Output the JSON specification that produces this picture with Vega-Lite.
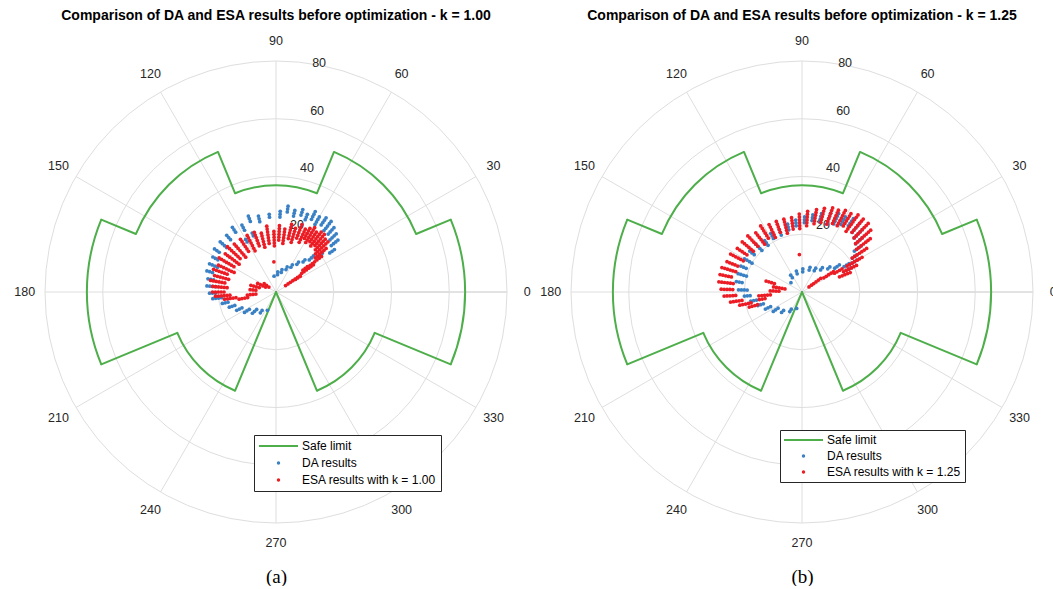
{
  "$schema": "https://vega.github.io/schema/vega-lite/v6.json",
  "padding": {"left": 14, "top": 8, "right": 0, "bottom": 0},
  "background": "white",
  "config": {
    "view": {"stroke": null},
    "font": "Liberation Sans",
    "axisX": {"domain": false, "ticks": false, "labels": false, "grid": false, "titleFont": "Liberation Serif", "titleFontSize": 19, "titleFontWeight": "normal", "titleColor": "#000000", "titlePadding": 44}
  },
  "spacing": 64,
  "bounds": "flush",
  "resolve": {"scale": {"color": "independent", "x": "independent", "y": "independent", "radius": "independent", "theta": "independent"}, "legend": {"color": "independent"}},
  "datasets": {
    "rings": [{"r": 20}, {"r": 40}, {"r": 60}, {"r": 80}],
    "spokes": [{"t": 0}, {"t": 30}, {"t": 60}, {"t": 90}, {"t": 120}, {"t": 150}, {"t": 180}, {"t": 210}, {"t": 240}, {"t": 270}, {"t": 300}, {"t": 330}],
    "rticks": [{"r": 20}, {"r": 40}, {"r": 60}, {"r": 80}],
    "arcs": [
      {"s": "S", "t0": -22.5, "t1": 22.5, "r": 65.5},
      {"s": "S", "t0": 22.5, "t1": 67.5, "r": 52.5},
      {"s": "S", "t0": 67.5, "t1": 112.5, "r": 37},
      {"s": "S", "t0": 112.5, "t1": 157.5, "r": 52.5},
      {"s": "S", "t0": 157.5, "t1": 202.5, "r": 65.5},
      {"s": "S", "t0": 202.5, "t1": 247.5, "r": 37},
      {"s": "S", "t0": 292.5, "t1": 337.5, "r": 37}
    ],
    "steps": [
      {"t": 22.5, "r1": 65.5, "r2": 52.5},
      {"t": 67.5, "r1": 52.5, "r2": 37},
      {"t": 112.5, "r1": 37, "r2": 52.5},
      {"t": 157.5, "r1": 52.5, "r2": 65.5},
      {"t": 202.5, "r1": 65.5, "r2": 37},
      {"t": 247.5, "r1": 37, "r2": 0},
      {"t": 292.5, "r1": 0, "r2": 37},
      {"t": 337.5, "r1": 37, "r2": 65.5}
    ],
    "pts": [
      {"p": "a", "s": "D", "t": 36, "r": [23, 24, 25]},
      {"p": "a", "s": "D", "t": 40, "r": [25, 26, 27, 28]},
      {"p": "a", "s": "D", "t": 44, "r": [26, 27, 28, 29]},
      {"p": "a", "s": "D", "t": 48, "r": [27, 28, 29, 30]},
      {"p": "a", "s": "D", "t": 52, "r": [27, 28, 29, 30, 31]},
      {"p": "a", "s": "D", "t": 56, "r": [28, 29, 30, 31]},
      {"p": "a", "s": "D", "t": 60, "r": [27, 28, 29, 30]},
      {"p": "a", "s": "D", "t": 64, "r": [28, 29, 30, 31]},
      {"p": "a", "s": "D", "t": 68, "r": [27, 28, 29]},
      {"p": "a", "s": "D", "t": 72, "r": [28, 29, 30]},
      {"p": "a", "s": "D", "t": 77, "r": [27, 28, 29]},
      {"p": "a", "s": "D", "t": 82, "r": [28, 29, 30]},
      {"p": "a", "s": "D", "t": 87, "r": [26, 27, 28]},
      {"p": "a", "s": "D", "t": 95, "r": [26, 27]},
      {"p": "a", "s": "D", "t": 103, "r": [25, 26, 27]},
      {"p": "a", "s": "D", "t": 110, "r": [26, 27, 28]},
      {"p": "a", "s": "D", "t": 112, "r": [21, 22]},
      {"p": "a", "s": "D", "t": 117, "r": [24, 25, 26]},
      {"p": "a", "s": "D", "t": 120, "r": [20, 21]},
      {"p": "a", "s": "D", "t": 124, "r": [25, 26, 27]},
      {"p": "a", "s": "D", "t": 131, "r": [24, 25, 26]},
      {"p": "a", "s": "D", "t": 138, "r": [23, 24, 25, 26]},
      {"p": "a", "s": "D", "t": 145, "r": [24, 25, 26]},
      {"p": "a", "s": "D", "t": 151, "r": [23, 24, 25]},
      {"p": "a", "s": "D", "t": 157, "r": [22, 23, 24, 25]},
      {"p": "a", "s": "D", "t": 163, "r": [23, 24, 25]},
      {"p": "a", "s": "D", "t": 169, "r": [22, 23, 24]},
      {"p": "a", "s": "D", "t": 175, "r": [21, 22, 23, 24]},
      {"p": "a", "s": "D", "t": 181, "r": [21, 22, 23]},
      {"p": "a", "s": "D", "t": 186, "r": [19, 20, 21, 22]},
      {"p": "a", "s": "D", "t": 192, "r": [17, 18, 19]},
      {"p": "a", "s": "D", "t": 198, "r": [15, 16, 17]},
      {"p": "a", "s": "D", "t": 205, "r": [13, 14, 15]},
      {"p": "a", "s": "D", "t": 213, "r": [11, 12, 13]},
      {"p": "a", "s": "D", "t": 222, "r": [9, 10, 11]},
      {"p": "a", "s": "D", "t": 233, "r": [8, 9]},
      {"p": "a", "s": "D", "t": 245, "r": [7]},
      {"p": "a", "s": "D", "t": 40, "r": [19, 20, 21]},
      {"p": "a", "s": "D", "t": 44, "r": [16, 17, 18]},
      {"p": "a", "s": "D", "t": 48, "r": [14, 15]},
      {"p": "a", "s": "D", "t": 53, "r": [12, 13]},
      {"p": "a", "s": "D", "t": 59, "r": [10, 11]},
      {"p": "a", "s": "D", "t": 66, "r": [8.5, 9.5]},
      {"p": "a", "s": "D", "t": 75, "r": [7, 8]},
      {"p": "a", "s": "D", "t": 85, "r": [6, 7]},
      {"p": "a", "s": "D", "t": 97, "r": [5.5]},
      {"p": "a", "s": "E", "t": 38, "r": [15, 16, 17, 18, 19, 20]},
      {"p": "a", "s": "E", "t": 41, "r": [18, 19, 20, 21, 22, 23]},
      {"p": "a", "s": "E", "t": 44, "r": [19, 20, 21, 22, 23, 24, 25]},
      {"p": "a", "s": "E", "t": 47, "r": [20, 21, 22, 23, 24, 25]},
      {"p": "a", "s": "E", "t": 50, "r": [21, 22, 23, 24, 25, 26]},
      {"p": "a", "s": "E", "t": 53, "r": [20, 21, 22, 23, 24, 25, 26]},
      {"p": "a", "s": "E", "t": 56, "r": [21, 22, 23, 24, 25]},
      {"p": "a", "s": "E", "t": 59, "r": [20, 21, 22, 23, 24, 25, 26]},
      {"p": "a", "s": "E", "t": 62, "r": [21, 22, 23, 24, 25]},
      {"p": "a", "s": "E", "t": 65, "r": [19, 20, 21, 22, 23, 24]},
      {"p": "a", "s": "E", "t": 69, "r": [20, 21, 22, 23, 24, 25]},
      {"p": "a", "s": "E", "t": 73, "r": [18, 19, 20, 21, 22, 23]},
      {"p": "a", "s": "E", "t": 77, "r": [19, 20, 21, 22, 23, 24]},
      {"p": "a", "s": "E", "t": 82, "r": [17, 18, 19, 20, 21, 22]},
      {"p": "a", "s": "E", "t": 87, "r": [18, 19, 20, 21, 22, 23]},
      {"p": "a", "s": "E", "t": 92, "r": [16, 17, 18, 19, 20, 21]},
      {"p": "a", "s": "E", "t": 98, "r": [17, 18, 19, 20, 21, 22, 23]},
      {"p": "a", "s": "E", "t": 104, "r": [16, 17, 18, 19, 20, 21]},
      {"p": "a", "s": "E", "t": 110, "r": [17, 18, 19, 20, 21, 22]},
      {"p": "a", "s": "E", "t": 117, "r": [16, 17, 18, 19, 20, 21, 22]},
      {"p": "a", "s": "E", "t": 124, "r": [17, 18, 19, 20, 21, 22]},
      {"p": "a", "s": "E", "t": 131, "r": [16, 17, 18, 19, 20, 21, 22]},
      {"p": "a", "s": "E", "t": 137, "r": [17, 18, 19, 20, 21, 22, 23]},
      {"p": "a", "s": "E", "t": 143, "r": [16, 17, 18, 19, 20, 21, 22]},
      {"p": "a", "s": "E", "t": 149, "r": [17, 18, 19, 20, 21, 22, 23]},
      {"p": "a", "s": "E", "t": 155, "r": [16, 17, 18, 19, 20, 21, 22]},
      {"p": "a", "s": "E", "t": 160, "r": [18, 19, 20, 21, 22, 23]},
      {"p": "a", "s": "E", "t": 165, "r": [17, 18, 19, 20, 21, 22]},
      {"p": "a", "s": "E", "t": 170, "r": [18, 19, 20, 21, 22, 23]},
      {"p": "a", "s": "E", "t": 175, "r": [17, 18, 19, 20, 21, 22]},
      {"p": "a", "s": "E", "t": 180, "r": [18, 19, 20, 21, 22]},
      {"p": "a", "s": "E", "t": 184, "r": [16, 17, 18, 19, 20, 21]},
      {"p": "a", "s": "E", "t": 188, "r": [14, 15, 16, 17, 18]},
      {"p": "a", "s": "E", "t": 34, "r": [4, 5, 6, 7, 8, 9, 10]},
      {"p": "a", "s": "E", "t": 36, "r": [11, 12, 13, 14, 15, 16]},
      {"p": "a", "s": "E", "t": 33, "r": [8, 9, 10]},
      {"p": "a", "s": "E", "t": 39, "r": [12, 13, 14]},
      {"p": "a", "s": "E", "t": 191, "r": [10, 11, 12, 13]},
      {"p": "a", "s": "E", "t": 186, "r": [7, 8, 9, 10]},
      {"p": "a", "s": "E", "t": 175, "r": [7, 8, 9]},
      {"p": "a", "s": "E", "t": 165, "r": [6, 7, 8, 9]},
      {"p": "a", "s": "E", "t": 155, "r": [4, 5, 6, 7]},
      {"p": "a", "s": "E", "t": 145, "r": [3, 4, 5]},
      {"p": "a", "s": "E", "t": 94, "r": [10.5]},
      {"p": "b", "s": "D", "t": 26, "r": [17, 18, 19]},
      {"p": "b", "s": "D", "t": 30, "r": [19, 20, 21, 22]},
      {"p": "b", "s": "D", "t": 34, "r": [21, 22, 23]},
      {"p": "b", "s": "D", "t": 38, "r": [23, 24, 25, 26]},
      {"p": "b", "s": "D", "t": 42, "r": [25, 26, 27, 28]},
      {"p": "b", "s": "D", "t": 46, "r": [26, 27, 28, 29, 30]},
      {"p": "b", "s": "D", "t": 50, "r": [27, 28, 29, 30, 31]},
      {"p": "b", "s": "D", "t": 55, "r": [28, 29, 30, 31]},
      {"p": "b", "s": "D", "t": 60, "r": [27, 28, 29, 30]},
      {"p": "b", "s": "D", "t": 65, "r": [26, 27, 28, 29, 30]},
      {"p": "b", "s": "D", "t": 70, "r": [27, 28, 29]},
      {"p": "b", "s": "D", "t": 76, "r": [25, 26, 27, 28]},
      {"p": "b", "s": "D", "t": 82, "r": [25, 26, 27]},
      {"p": "b", "s": "D", "t": 88, "r": [24, 25, 26]},
      {"p": "b", "s": "D", "t": 95, "r": [23, 24, 25]},
      {"p": "b", "s": "D", "t": 102, "r": [22, 23, 24]},
      {"p": "b", "s": "D", "t": 110, "r": [21, 22, 23]},
      {"p": "b", "s": "D", "t": 118, "r": [21, 22, 23]},
      {"p": "b", "s": "D", "t": 126, "r": [20, 21, 22]},
      {"p": "b", "s": "D", "t": 134, "r": [20, 21, 22, 23]},
      {"p": "b", "s": "D", "t": 142, "r": [21, 22, 23]},
      {"p": "b", "s": "D", "t": 150, "r": [20, 21, 22, 23]},
      {"p": "b", "s": "D", "t": 157, "r": [21, 22, 23]},
      {"p": "b", "s": "D", "t": 164, "r": [20, 21, 22, 23]},
      {"p": "b", "s": "D", "t": 171, "r": [21, 22, 23]},
      {"p": "b", "s": "D", "t": 178, "r": [19, 20, 21, 22]},
      {"p": "b", "s": "D", "t": 184, "r": [18, 19, 20]},
      {"p": "b", "s": "D", "t": 190, "r": [16, 17, 18]},
      {"p": "b", "s": "D", "t": 197, "r": [14, 15, 16]},
      {"p": "b", "s": "D", "t": 205, "r": [12, 13, 14]},
      {"p": "b", "s": "D", "t": 214, "r": [10, 11, 12]},
      {"p": "b", "s": "D", "t": 225, "r": [9, 10]},
      {"p": "b", "s": "D", "t": 238, "r": [7, 8]},
      {"p": "b", "s": "D", "t": 252, "r": [6]},
      {"p": "b", "s": "D", "t": 31, "r": [17, 18, 19]},
      {"p": "b", "s": "D", "t": 36, "r": [14, 15, 16]},
      {"p": "b", "s": "D", "t": 42, "r": [12, 13]},
      {"p": "b", "s": "D", "t": 50, "r": [10, 11]},
      {"p": "b", "s": "D", "t": 60, "r": [8.5, 9.5]},
      {"p": "b", "s": "D", "t": 72, "r": [8, 9]},
      {"p": "b", "s": "D", "t": 88, "r": [7, 8]},
      {"p": "b", "s": "D", "t": 105, "r": [6.5, 7.5]},
      {"p": "b", "s": "D", "t": 124, "r": [6, 7]},
      {"p": "b", "s": "D", "t": 140, "r": [5]},
      {"p": "b", "s": "E", "t": 22, "r": [14, 15, 16, 17, 18]},
      {"p": "b", "s": "E", "t": 26, "r": [16, 17, 18, 19, 20, 21]},
      {"p": "b", "s": "E", "t": 30, "r": [18, 19, 20, 21, 22, 23, 24]},
      {"p": "b", "s": "E", "t": 34, "r": [21, 22, 23, 24, 25, 26, 27]},
      {"p": "b", "s": "E", "t": 38, "r": [24, 25, 26, 27, 28, 29, 30]},
      {"p": "b", "s": "E", "t": 42, "r": [25, 26, 27, 28, 29, 30, 31, 32]},
      {"p": "b", "s": "E", "t": 46, "r": [26, 27, 28, 29, 30, 31, 32, 33]},
      {"p": "b", "s": "E", "t": 50, "r": [27, 28, 29, 30, 31, 32, 33]},
      {"p": "b", "s": "E", "t": 54, "r": [26, 27, 28, 29, 30, 31, 32, 33]},
      {"p": "b", "s": "E", "t": 58, "r": [27, 28, 29, 30, 31, 32]},
      {"p": "b", "s": "E", "t": 62, "r": [26, 27, 28, 29, 30, 31, 32]},
      {"p": "b", "s": "E", "t": 66, "r": [26, 27, 28, 29, 30, 31]},
      {"p": "b", "s": "E", "t": 70, "r": [25, 26, 27, 28, 29, 30, 31]},
      {"p": "b", "s": "E", "t": 75, "r": [25, 26, 27, 28, 29, 30]},
      {"p": "b", "s": "E", "t": 80, "r": [24, 25, 26, 27, 28, 29]},
      {"p": "b", "s": "E", "t": 86, "r": [23, 24, 25, 26, 27, 28]},
      {"p": "b", "s": "E", "t": 92, "r": [22, 23, 24, 25, 26, 27]},
      {"p": "b", "s": "E", "t": 98, "r": [22, 23, 24, 25, 26]},
      {"p": "b", "s": "E", "t": 104, "r": [21, 22, 23, 24, 25, 26]},
      {"p": "b", "s": "E", "t": 110, "r": [22, 23, 24, 25, 26]},
      {"p": "b", "s": "E", "t": 116, "r": [21, 22, 23, 24, 25, 26]},
      {"p": "b", "s": "E", "t": 122, "r": [22, 23, 24, 25, 26, 27]},
      {"p": "b", "s": "E", "t": 128, "r": [21, 22, 23, 24, 25, 26]},
      {"p": "b", "s": "E", "t": 134, "r": [22, 23, 24, 25, 26, 27]},
      {"p": "b", "s": "E", "t": 140, "r": [22, 23, 24, 25, 26, 27]},
      {"p": "b", "s": "E", "t": 146, "r": [23, 24, 25, 26, 27]},
      {"p": "b", "s": "E", "t": 152, "r": [23, 24, 25, 26, 27, 28]},
      {"p": "b", "s": "E", "t": 158, "r": [24, 25, 26, 27, 28]},
      {"p": "b", "s": "E", "t": 163, "r": [24, 25, 26, 27, 28, 29]},
      {"p": "b", "s": "E", "t": 168, "r": [25, 26, 27, 28, 29]},
      {"p": "b", "s": "E", "t": 173, "r": [24, 25, 26, 27, 28, 29]},
      {"p": "b", "s": "E", "t": 178, "r": [24, 25, 26, 27, 28]},
      {"p": "b", "s": "E", "t": 183, "r": [23, 24, 25, 26, 27]},
      {"p": "b", "s": "E", "t": 188, "r": [21, 22, 23, 24, 25]},
      {"p": "b", "s": "E", "t": 192, "r": [18, 19, 20, 21, 22]},
      {"p": "b", "s": "E", "t": 196, "r": [16, 17, 18, 19]},
      {"p": "b", "s": "E", "t": 36, "r": [3, 4, 5, 6, 7, 8]},
      {"p": "b", "s": "E", "t": 33, "r": [9, 10, 11, 12, 13]},
      {"p": "b", "s": "E", "t": 30, "r": [13, 14, 15, 16]},
      {"p": "b", "s": "E", "t": 185, "r": [11, 12, 13, 14, 15]},
      {"p": "b", "s": "E", "t": 178, "r": [8, 9, 10, 11]},
      {"p": "b", "s": "E", "t": 170, "r": [6, 7, 8, 9, 10]},
      {"p": "b", "s": "E", "t": 163, "r": [10, 11, 12, 13]},
      {"p": "b", "s": "E", "t": 190, "r": [13, 14, 15]},
      {"p": "b", "s": "E", "t": 94, "r": [13]}
    ]
  },
  "hconcat": [
    {
      "width": 462,
      "height": 462,
      "title": {"text": "Comparison of DA and ESA results before optimization - k = 1.00", "font": "Liberation Sans", "fontSize": 14, "fontWeight": "bold", "color": "#000000", "frame": "group", "anchor": "middle", "offset": 12},
      "layer": [
        {
          "data": {"name": "rings"},
          "mark": {"type": "arc", "filled": false, "stroke": "#dedede", "strokeWidth": 1},
          "encoding": {
            "theta": {"datum": 0, "type": "quantitative", "scale": {"type": "linear", "domain": [0, 360], "range": [1.5707963, -4.712389]}},
            "theta2": {"datum": 360},
            "radius": {"field": "r", "type": "quantitative", "stack": null, "scale": {"type": "linear", "domain": [0, 80], "range": [0, 231], "zero": true}}
          }
        },
        {
          "data": {"name": "spokes"},
          "transform": [
            {"calculate": "80 * cos(datum.t * PI / 180)", "as": "x"},
            {"calculate": "80 * sin(datum.t * PI / 180)", "as": "y"}
          ],
          "mark": {"type": "rule", "color": "#dedede", "strokeWidth": 1},
          "encoding": {
            "x": {"field": "x", "type": "quantitative", "scale": {"domain": [-80, 80], "nice": false, "zero": false}, "axis": {"title": "(a)"}},
            "y": {"field": "y", "type": "quantitative", "scale": {"domain": [-80, 80], "nice": false, "zero": false}, "axis": null},
            "x2": {"datum": 0},
            "y2": {"datum": 0}
          }
        },
        {
          "data": {"name": "spokes"},
          "transform": [
            {"calculate": "87 * cos(datum.t * PI / 180)", "as": "x"},
            {"calculate": "87 * sin(datum.t * PI / 180)", "as": "y"}
          ],
          "mark": {"type": "text", "font": "Liberation Sans", "fontSize": 12.5, "color": "#262626", "align": "center", "baseline": "middle"},
          "encoding": {
            "x": {"field": "x", "type": "quantitative"},
            "y": {"field": "y", "type": "quantitative", "axis": null},
            "text": {"field": "t", "type": "quantitative"}
          }
        },
        {
          "data": {"name": "rticks"},
          "transform": [
            {"filter": "datum.r < 80"},
            {"calculate": "datum.r * cos(80 * PI / 180)", "as": "x"},
            {"calculate": "datum.r * sin(80 * PI / 180)", "as": "y"}
          ],
          "mark": {"type": "text", "font": "Liberation Sans", "fontSize": 12.5, "color": "#262626", "align": "center", "baseline": "middle", "dx": 11, "dy": -10},
          "encoding": {
            "x": {"field": "x", "type": "quantitative"},
            "y": {"field": "y", "type": "quantitative", "axis": null},
            "text": {"field": "r", "type": "quantitative"}
          }
        },
        {
          "data": {"name": "rticks"},
          "transform": [
            {"filter": "datum.r == 80"},
            {"calculate": "datum.r * cos(80 * PI / 180)", "as": "x"},
            {"calculate": "datum.r * sin(80 * PI / 180)", "as": "y"}
          ],
          "mark": {"type": "text", "font": "Liberation Sans", "fontSize": 12.5, "color": "#262626", "align": "center", "baseline": "middle", "dx": 3, "dy": -2},
          "encoding": {
            "x": {"field": "x", "type": "quantitative"},
            "y": {"field": "y", "type": "quantitative", "axis": null},
            "text": {"field": "r", "type": "quantitative"}
          }
        },
        {
          "data": {"name": "steps"},
          "transform": [
            {"calculate": "datum.r1 * cos(datum.t * PI / 180)", "as": "xa"},
            {"calculate": "datum.r1 * sin(datum.t * PI / 180)", "as": "ya"},
            {"calculate": "datum.r2 * cos(datum.t * PI / 180)", "as": "xb"},
            {"calculate": "datum.r2 * sin(datum.t * PI / 180)", "as": "yb"}
          ],
          "mark": {"type": "rule", "color": "#4dae4a", "strokeWidth": 2, "strokeCap": "round"},
          "encoding": {
            "x": {"field": "xa", "type": "quantitative"},
            "y": {"field": "ya", "type": "quantitative", "axis": null},
            "x2": {"field": "xb"},
            "y2": {"field": "yb"}
          }
        },
        {
          "data": {"name": "arcs"},
          "mark": {"type": "arc", "filled": false, "strokeWidth": 2},
          "encoding": {
            "theta": {"field": "t0", "type": "quantitative", "stack": null},
            "theta2": {"field": "t1"},
            "radius": {"field": "r", "type": "quantitative", "stack": null},
            "radius2": {"field": "r"},
            "color": {
              "field": "s", "type": "nominal",
              "scale": {"domain": ["S", "D", "E"], "range": ["#4dae4a", "#3a80c4", "#ec1c24"]},
              "legend": {
                "orient": "none", "legendX": 209, "legendY": 374, "title": null, "direction": "vertical",
                "labelExpr": "datum.value === 'S' ? 'Safe limit' : datum.value === 'D' ? 'DA results' : 'ESA results with k = 1.00'",
                "labelFont": "Liberation Sans", "labelFontSize": 12, "labelColor": "#000000", "labelLimit": 400, "labelOffset": 4,
                "symbolSize": 1521, "padding": 5, "rowPadding": 5,
                "strokeColor": "#262626", "fillColor": "#ffffff", "cornerRadius": 0,
                "encode": {
                  "symbols": {"update": {
                    "x": {"value": 19.5},
                    "shape": {"signal": "datum.value === 'S' ? 'stroke' : 'circle'"},
                    "size": {"signal": "datum.value === 'S' ? 1521 : 12"},
                    "strokeWidth": {"signal": "datum.value === 'S' ? 2 : 0"},
                    "stroke": {"signal": "datum.value === 'S' ? '#4dae4a' : 'transparent'"},
                    "fill": {"signal": "datum.value === 'D' ? '#3a80c4' : datum.value === 'E' ? '#ec1c24' : 'transparent'"},
                    "opacity": {"value": 1}
                  }},
                  "labels": {"update": {"x": {"value": 43}}}
                }
              }
            }
          }
        },
        {
          "data": {"name": "pts"},
          "transform": [
            {"filter": "datum.p === 'a'"},
            {"flatten": ["r"]},
            {"calculate": "datum.r * cos(datum.t * PI / 180)", "as": "x"},
            {"calculate": "datum.r * sin(datum.t * PI / 180)", "as": "y"}
          ],
          "mark": {"type": "point", "filled": true, "size": 14, "opacity": 1},
          "encoding": {
            "x": {"field": "x", "type": "quantitative"},
            "y": {"field": "y", "type": "quantitative", "axis": null},
            "color": {
              "field": "s", "type": "nominal",
              "scale": {"domain": ["S", "D", "E"], "range": ["#4dae4a", "#3a80c4", "#ec1c24"]},
              "legend": {
                "orient": "none", "legendX": 209, "legendY": 374, "title": null, "direction": "vertical",
                "labelExpr": "datum.value === 'S' ? 'Safe limit' : datum.value === 'D' ? 'DA results' : 'ESA results with k = 1.00'",
                "labelFont": "Liberation Sans", "labelFontSize": 12, "labelColor": "#000000", "labelLimit": 400, "labelOffset": 4,
                "symbolSize": 1521, "padding": 5, "rowPadding": 5,
                "strokeColor": "#262626", "fillColor": "#ffffff", "cornerRadius": 0,
                "encode": {
                  "symbols": {"update": {
                    "x": {"value": 19.5},
                    "shape": {"signal": "datum.value === 'S' ? 'stroke' : 'circle'"},
                    "size": {"signal": "datum.value === 'S' ? 1521 : 12"},
                    "strokeWidth": {"signal": "datum.value === 'S' ? 2 : 0"},
                    "stroke": {"signal": "datum.value === 'S' ? '#4dae4a' : 'transparent'"},
                    "fill": {"signal": "datum.value === 'D' ? '#3a80c4' : datum.value === 'E' ? '#ec1c24' : 'transparent'"},
                    "opacity": {"value": 1}
                  }},
                  "labels": {"update": {"x": {"value": 43}}}
                }
              }
            }
          }
        }
      ]
    },
    {
      "width": 462,
      "height": 462,
      "title": {"text": "Comparison of DA and ESA results before optimization - k = 1.25", "font": "Liberation Sans", "fontSize": 14, "fontWeight": "bold", "color": "#000000", "frame": "group", "anchor": "middle", "offset": 12},
      "layer": [
        {
          "data": {"name": "rings"},
          "mark": {"type": "arc", "filled": false, "stroke": "#dedede", "strokeWidth": 1},
          "encoding": {
            "theta": {"datum": 0, "type": "quantitative", "scale": {"type": "linear", "domain": [0, 360], "range": [1.5707963, -4.712389]}},
            "theta2": {"datum": 360},
            "radius": {"field": "r", "type": "quantitative", "stack": null, "scale": {"type": "linear", "domain": [0, 80], "range": [0, 231], "zero": true}}
          }
        },
        {
          "data": {"name": "spokes"},
          "transform": [
            {"calculate": "80 * cos(datum.t * PI / 180)", "as": "x"},
            {"calculate": "80 * sin(datum.t * PI / 180)", "as": "y"}
          ],
          "mark": {"type": "rule", "color": "#dedede", "strokeWidth": 1},
          "encoding": {
            "x": {"field": "x", "type": "quantitative", "scale": {"domain": [-80, 80], "nice": false, "zero": false}, "axis": {"title": "(b)"}},
            "y": {"field": "y", "type": "quantitative", "scale": {"domain": [-80, 80], "nice": false, "zero": false}, "axis": null},
            "x2": {"datum": 0},
            "y2": {"datum": 0}
          }
        },
        {
          "data": {"name": "spokes"},
          "transform": [
            {"calculate": "87 * cos(datum.t * PI / 180)", "as": "x"},
            {"calculate": "87 * sin(datum.t * PI / 180)", "as": "y"}
          ],
          "mark": {"type": "text", "font": "Liberation Sans", "fontSize": 12.5, "color": "#262626", "align": "center", "baseline": "middle"},
          "encoding": {
            "x": {"field": "x", "type": "quantitative"},
            "y": {"field": "y", "type": "quantitative", "axis": null},
            "text": {"field": "t", "type": "quantitative"}
          }
        },
        {
          "data": {"name": "rticks"},
          "transform": [
            {"filter": "datum.r < 80"},
            {"calculate": "datum.r * cos(80 * PI / 180)", "as": "x"},
            {"calculate": "datum.r * sin(80 * PI / 180)", "as": "y"}
          ],
          "mark": {"type": "text", "font": "Liberation Sans", "fontSize": 12.5, "color": "#262626", "align": "center", "baseline": "middle", "dx": 11, "dy": -10},
          "encoding": {
            "x": {"field": "x", "type": "quantitative"},
            "y": {"field": "y", "type": "quantitative", "axis": null},
            "text": {"field": "r", "type": "quantitative"}
          }
        },
        {
          "data": {"name": "rticks"},
          "transform": [
            {"filter": "datum.r == 80"},
            {"calculate": "datum.r * cos(80 * PI / 180)", "as": "x"},
            {"calculate": "datum.r * sin(80 * PI / 180)", "as": "y"}
          ],
          "mark": {"type": "text", "font": "Liberation Sans", "fontSize": 12.5, "color": "#262626", "align": "center", "baseline": "middle", "dx": 3, "dy": -2},
          "encoding": {
            "x": {"field": "x", "type": "quantitative"},
            "y": {"field": "y", "type": "quantitative", "axis": null},
            "text": {"field": "r", "type": "quantitative"}
          }
        },
        {
          "data": {"name": "steps"},
          "transform": [
            {"calculate": "datum.r1 * cos(datum.t * PI / 180)", "as": "xa"},
            {"calculate": "datum.r1 * sin(datum.t * PI / 180)", "as": "ya"},
            {"calculate": "datum.r2 * cos(datum.t * PI / 180)", "as": "xb"},
            {"calculate": "datum.r2 * sin(datum.t * PI / 180)", "as": "yb"}
          ],
          "mark": {"type": "rule", "color": "#4dae4a", "strokeWidth": 2, "strokeCap": "round"},
          "encoding": {
            "x": {"field": "xa", "type": "quantitative"},
            "y": {"field": "ya", "type": "quantitative", "axis": null},
            "x2": {"field": "xb"},
            "y2": {"field": "yb"}
          }
        },
        {
          "data": {"name": "arcs"},
          "mark": {"type": "arc", "filled": false, "strokeWidth": 2},
          "encoding": {
            "theta": {"field": "t0", "type": "quantitative", "stack": null},
            "theta2": {"field": "t1"},
            "radius": {"field": "r", "type": "quantitative", "stack": null},
            "radius2": {"field": "r"},
            "color": {
              "field": "s", "type": "nominal",
              "scale": {"domain": ["S", "D", "E"], "range": ["#4dae4a", "#3a80c4", "#ec1c24"]},
              "legend": {
                "orient": "none", "legendX": 209, "legendY": 369, "title": null, "direction": "vertical",
                "labelExpr": "datum.value === 'S' ? 'Safe limit' : datum.value === 'D' ? 'DA results' : 'ESA results with k = 1.25'",
                "labelFont": "Liberation Sans", "labelFontSize": 12, "labelColor": "#000000", "labelLimit": 400, "labelOffset": 4,
                "symbolSize": 1521, "padding": 4, "rowPadding": 4,
                "strokeColor": "#262626", "fillColor": "#ffffff", "cornerRadius": 0,
                "encode": {
                  "symbols": {"update": {
                    "x": {"value": 19.5},
                    "shape": {"signal": "datum.value === 'S' ? 'stroke' : 'circle'"},
                    "size": {"signal": "datum.value === 'S' ? 1521 : 12"},
                    "strokeWidth": {"signal": "datum.value === 'S' ? 2 : 0"},
                    "stroke": {"signal": "datum.value === 'S' ? '#4dae4a' : 'transparent'"},
                    "fill": {"signal": "datum.value === 'D' ? '#3a80c4' : datum.value === 'E' ? '#ec1c24' : 'transparent'"},
                    "opacity": {"value": 1}
                  }},
                  "labels": {"update": {"x": {"value": 43}}}
                }
              }
            }
          }
        },
        {
          "data": {"name": "pts"},
          "transform": [
            {"filter": "datum.p === 'b'"},
            {"flatten": ["r"]},
            {"calculate": "datum.r * cos(datum.t * PI / 180)", "as": "x"},
            {"calculate": "datum.r * sin(datum.t * PI / 180)", "as": "y"}
          ],
          "mark": {"type": "point", "filled": true, "size": 14, "opacity": 1},
          "encoding": {
            "x": {"field": "x", "type": "quantitative"},
            "y": {"field": "y", "type": "quantitative", "axis": null},
            "color": {
              "field": "s", "type": "nominal",
              "scale": {"domain": ["S", "D", "E"], "range": ["#4dae4a", "#3a80c4", "#ec1c24"]},
              "legend": {
                "orient": "none", "legendX": 209, "legendY": 369, "title": null, "direction": "vertical",
                "labelExpr": "datum.value === 'S' ? 'Safe limit' : datum.value === 'D' ? 'DA results' : 'ESA results with k = 1.25'",
                "labelFont": "Liberation Sans", "labelFontSize": 12, "labelColor": "#000000", "labelLimit": 400, "labelOffset": 4,
                "symbolSize": 1521, "padding": 4, "rowPadding": 4,
                "strokeColor": "#262626", "fillColor": "#ffffff", "cornerRadius": 0,
                "encode": {
                  "symbols": {"update": {
                    "x": {"value": 19.5},
                    "shape": {"signal": "datum.value === 'S' ? 'stroke' : 'circle'"},
                    "size": {"signal": "datum.value === 'S' ? 1521 : 12"},
                    "strokeWidth": {"signal": "datum.value === 'S' ? 2 : 0"},
                    "stroke": {"signal": "datum.value === 'S' ? '#4dae4a' : 'transparent'"},
                    "fill": {"signal": "datum.value === 'D' ? '#3a80c4' : datum.value === 'E' ? '#ec1c24' : 'transparent'"},
                    "opacity": {"value": 1}
                  }},
                  "labels": {"update": {"x": {"value": 43}}}
                }
              }
            }
          }
        }
      ]
    }
  ]
}
